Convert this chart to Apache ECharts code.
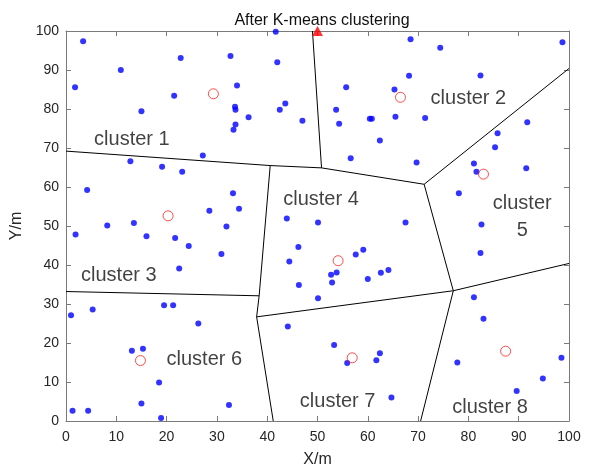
<!DOCTYPE html>
<html>
<head>
<meta charset="utf-8">
<script src="https://cdn.jsdelivr.net/npm/echarts@6/dist/echarts.min.js"></script>
<style>html,body{margin:0;padding:0;background:#fff}#c{width:591px;height:468px}</style>
</head>
<body>
<div id="c"></div>
<script>
// ---- data ----
var xTicks = [0,10,20,30,40,50,60,70,80,90,100];
var yTicks = [0,10,20,30,40,50,60,70,80,90,100];
var nodes = [
  [3.4,97.4],[10.9,90.0],[1.8,85.6],[22.8,93.1],[21.5,83.4],[15.0,79.4],[32.7,93.6],[41.7,99.8],[42.0,92.0],[34.0,86.0],[33.6,80.6],[33.7,79.8],[36.3,77.9],[42.5,79.8],[43.6,81.4],[47.0,77.0],[33.7,76.0],[33.3,74.7],[27.2,68.1],
  [12.8,66.6],[19.1,65.2],[23.1,63.9],[4.2,59.2],[33.2,58.4],[34.4,54.4],[28.5,53.9],[8.2,50.1],[13.5,50.8],[1.9,47.8],[16.0,47.4],[31.9,49.9],[21.7,46.9],[24.4,44.9],[30.9,42.8],[22.5,39.1],
  [68.5,97.9],[74.4,95.7],[98.7,97.1],[68.2,88.5],[82.4,88.6],[55.7,85.6],[65.3,85.0],[53.7,79.8],[54.3,76.2],[60.4,77.5],[60.8,77.5],[65.5,78.0],[71.4,77.7],[62.4,71.9],[56.6,67.4],[69.7,66.3],
  [91.7,76.6],[85.8,73.8],[85.3,70.2],[81.1,66.0],[91.5,64.8],[81.6,63.9],[78.1,58.4],[82.6,50.4],[82.4,43.1],
  [43.9,51.9],[50.1,50.9],[67.5,50.9],[46.2,44.6],[44.4,40.9],[57.6,42.7],[59.1,43.9],[52.7,37.5],[53.8,38.1],[52.9,35.5],[60.0,36.4],[62.6,38.0],[64.1,38.7],[46.3,34.9],[50.1,31.5],
  [81.1,31.7],[83.0,26.2],[77.8,15.0],[98.5,16.2],[94.8,10.9],[89.6,7.7],
  [1.0,27.1],[5.3,28.6],[19.5,29.7],[21.3,29.7],[26.3,25.0],[13.1,18.0],[15.3,18.5],[18.5,9.9],[1.3,2.6],[4.4,2.6],[15.0,4.5],[18.9,0.8],[32.4,4.1],
  [44.1,24.2],[53.3,19.5],[62.4,17.4],[61.7,15.6],[55.9,14.9],[64.7,6.0]
];
var centroids = [[29.3,83.9],[66.5,83.0],[20.3,52.6],[54.1,41.1],[83.0,63.3],[14.8,15.5],[56.9,16.2],[87.4,17.9]];
var sink = [[50.0,100.0]];
var boundaries = [
  [[0,69.2],[40.6,65.5],[50.8,64.9],[71.2,60.7],[100,90.4]],
  [[49.0,100],[50.8,64.9]],
  [[71.2,60.7],[77.0,33.4],[100,40.4]],
  [[77.0,33.4],[70.5,0]],
  [[0,33.2],[38.4,32.1],[40.6,65.5]],
  [[38.4,32.1],[37.9,26.7],[41.2,0]],
  [[37.9,26.7],[77.0,33.4]]
];
var clusterNames = ['cluster 1','cluster 2','cluster 3','cluster 4','cluster\n5','cluster 6','cluster 7','cluster 8'];
var labelPos = [[13.1,72.1],[80.0,82.8],[10.5,37.4],[50.7,56.9],[90.7,52.4],[27.5,15.9],[54.0,4.9],[84.3,3.5]];
var titleText = 'After K-means clustering';
var xName = 'X/m', yName = 'Y/m';

// ---- chart ----
var FONT = 'Liberation Sans';
var axisColor = '#7a7a7a';
var textColor = '#262626';
function baseAxis(pos, showLabel, isX) {
  return {
    type: 'value', min: 0, max: 100, interval: 10, position: pos,
    splitLine: {show: false},
    axisLine: {show: true, onZero: false, lineStyle: {color: axisColor, width: 1}},
    axisTick: {show: true, inside: true, length: 5, lineStyle: {color: axisColor}},
    axisLabel: {show: showLabel, fontFamily: FONT, fontSize: 14, color: textColor, margin: isX ? 9 : 7,
      formatter: function(v){ return String(v); }}
  };
}
var xA = baseAxis('bottom', true, true);
xA.name = xName; xA.nameLocation = 'middle'; xA.nameGap = 31;
xA.nameTextStyle = {fontFamily: FONT, fontSize: 16, color: textColor};
var xB = baseAxis('top', false, true);
var yA = baseAxis('left', true, false);
yA.name = yName; yA.nameLocation = 'middle'; yA.nameGap = 36;
yA.nameTextStyle = {fontFamily: FONT, fontSize: 16, color: textColor};
var yB = baseAxis('right', false, false);

var series = [];
boundaries.forEach(function(b){
  series.push({type: 'line', data: b, symbol: 'none', silent: true, animation: false,
    lineStyle: {color: '#000', width: 1}, z: 2});
});
series.push({type: 'scatter', data: nodes, symbol: 'circle', symbolSize: 6,
  itemStyle: {color: '#0000ff'}, animation: false, z: 3});
series.push({type: 'scatter', data: centroids, symbol: 'circle', symbolSize: 10,
  itemStyle: {color: 'rgba(0,0,0,0)', borderColor: '#ff2020', borderWidth: 1}, animation: false, z: 4});
series.push({type: 'scatter', data: sink, symbol: 'triangle', symbolSize: [11, 10], clip: false,
  itemStyle: {color: '#ff0000'}, animation: false, z: 5});
series.push({type: 'scatter', animation: false, z: 6, symbolSize: 0, silent: true,
  data: labelPos.map(function(p, i){ return {value: p, name: clusterNames[i]}; }),
  label: {show: true, position: 'inside', formatter: function(p){ return p.name; },
    fontFamily: FONT, fontSize: 20, color: '#111', lineHeight: 27}});

var chart = echarts.init(document.getElementById('c'), null, {renderer: 'canvas'});
chart.setOption({
  animation: false,
  backgroundColor: '#fff',
  title: {text: titleText, left: 317, top: 8, textAlign: 'center',
    textStyle: {fontFamily: FONT, fontSize: 16, fontWeight: 'normal', color: '#111'}},
  grid: {left: 66, right: 22, top: 31, bottom: 47, containLabel: false, outerBoundsMode: 'none'},
  xAxis: [xA, xB],
  yAxis: [yA, yB],
  series: series
});
</script>
</body>
</html>
